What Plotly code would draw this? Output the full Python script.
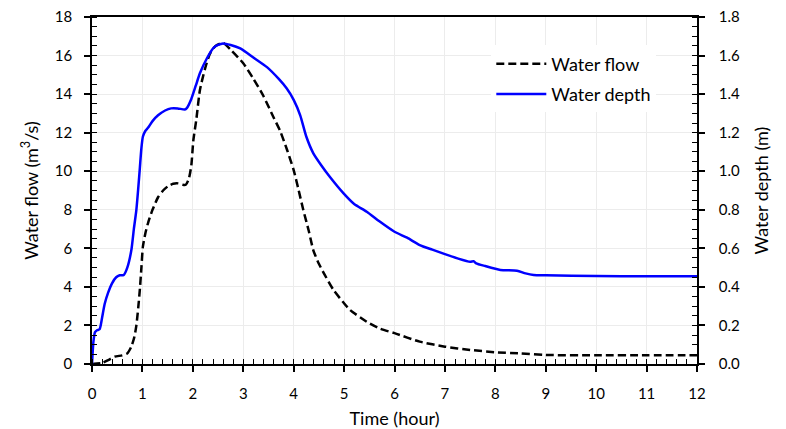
import plotly.graph_objects as go

# ---- data ----
flow_time = [0, 0.2, 0.32, 0.45, 0.6, 0.7, 0.78, 0.84, 0.88, 0.92, 0.95, 0.98, 1.01, 1.06, 1.11,
             1.2, 1.31, 1.41, 1.51, 1.61, 1.71, 1.8, 1.86, 1.92, 1.97, 2.01, 2.07, 2.14, 2.24,
             2.34, 2.45, 2.6, 2.75, 3.0, 3.2, 3.4, 3.6, 3.73, 3.87, 4.0, 4.1, 4.19, 4.3, 4.39,
             4.5, 4.6, 4.79, 5.0, 5.12, 5.45, 5.7, 6.0, 6.5, 7.0, 7.5, 8.0, 8.5, 9.0, 10, 11, 12]
flow_values = [0, 0.05, 0.2, 0.38, 0.45, 0.55, 0.9, 1.4, 2.0, 3.0, 3.9, 5.0, 6.1, 6.8, 7.3,
               8.0, 8.65, 9.0, 9.23, 9.35, 9.37, 9.3, 9.3, 9.6, 10.3, 11.6, 12.7, 14.2, 15.3,
               16.1, 16.5, 16.65, 16.3, 15.6, 14.8, 13.9, 12.8, 12.1, 11.1, 10.06, 9.0, 8.0, 6.9, 5.9,
               5.2, 4.7, 3.84, 3.15, 2.8, 2.19, 1.85, 1.6, 1.16, 0.9, 0.73, 0.61, 0.55, 0.47, 0.45, 0.45, 0.45]

depth_time = [0, 0.03, 0.06, 0.1, 0.15, 0.2, 0.25, 0.32, 0.4, 0.48, 0.55, 0.63, 0.7, 0.78, 0.83,
              0.88, 0.92, 0.95, 0.98, 1.01, 1.06, 1.11, 1.2, 1.31, 1.45, 1.57, 1.7, 1.84,
              1.88, 1.97, 2.06, 2.14, 2.28, 2.41, 2.5,
              2.6, 2.75, 2.94, 3.2, 3.47, 3.7, 3.86, 4.0,
              4.13, 4.25, 4.39, 4.55, 4.72, 4.99, 5.2, 5.45, 5.7, 6.0, 6.25, 6.5, 6.75, 7.0,
              7.25, 7.5, 7.57, 7.62, 7.8, 8.1, 8.43, 8.6, 8.76, 9.0, 10, 11, 12]
depth_values = [0, 0.12, 0.165, 0.175, 0.18, 0.24, 0.31, 0.37, 0.42, 0.45, 0.46, 0.462, 0.5, 0.59, 0.7,
                0.8, 0.92, 1.02, 1.12, 1.18, 1.21, 1.225, 1.26, 1.29, 1.315, 1.326, 1.326, 1.32,
                1.327, 1.375, 1.445, 1.508, 1.586, 1.64, 1.655,
                1.663, 1.655, 1.637, 1.59, 1.54, 1.48, 1.43, 1.37,
                1.29, 1.18, 1.093, 1.03, 0.97, 0.885, 0.83, 0.79, 0.74, 0.686, 0.655, 0.617, 0.593, 0.57,
                0.548, 0.53, 0.533, 0.522, 0.508, 0.488, 0.484, 0.47, 0.462, 0.46, 0.456, 0.455, 0.455]

series_names = ["Water flow", "Water depth"]
x_title = "Time (hour)"
y_title = "Water flow (m<sup>3</sup>/s)"
y2_title = "Water depth (m)"

FAMILY = "Lato, 'Open Sans', sans-serif"
TICK_FONT = dict(family=FAMILY, size=15, color="black")
TITLE_FONT = dict(family=FAMILY, size=18, color="black")
GRID = "#ececec"

fig = go.Figure()
fig.add_trace(go.Scatter(x=flow_time, y=flow_values, name=series_names[0], mode="lines",
                         legendgroup="a",
                         line=dict(color="black", width=2.5, dash="8px,4px", shape="spline", smoothing=0.6),
                         yaxis="y"))
fig.add_trace(go.Scatter(x=depth_time, y=depth_values, name=series_names[1], mode="lines",
                         legendgroup="b",
                         line=dict(color="#0000ff", width=2.5, shape="spline", smoothing=0.6),
                         yaxis="y2"))

fig.update_layout(
    width=786, height=429,
    margin=dict(l=92, r=89, t=17, b=65),
    paper_bgcolor="white", plot_bgcolor="white",
    font=TICK_FONT,
    showlegend=True,
    legend=dict(x=0.66, y=0.918, xanchor="left", yanchor="top", bgcolor="white",
                font=TITLE_FONT, traceorder="grouped", tracegroupgap=4, itemwidth=50),
    xaxis=dict(range=[0, 12], dtick=1, tick0=0, showgrid=True, gridcolor=GRID, gridwidth=1,
               zeroline=False, showline=True, linecolor="black", linewidth=1.5, mirror=True,
               ticks="outside", ticklen=6, tickcolor="black", tickwidth=1.5, tickfont=TICK_FONT,
               minor=dict(dtick=0.2, ticks="inside", ticklen=5, tickcolor="black", tickwidth=1, showgrid=False),
               title=dict(text=x_title, standoff=12, font=TITLE_FONT), ticklabelstandoff=9,
               automargin=False),
    yaxis=dict(range=[0, 18], dtick=2, tick0=0, showgrid=True, gridcolor=GRID, gridwidth=1,
               zeroline=False, showline=True, linecolor="black", linewidth=1.5,
               ticks="outside", ticklen=6, tickcolor="black", tickwidth=1.5, tickfont=TICK_FONT,
               minor=dict(dtick=0.5, ticks="inside", ticklen=5, tickcolor="black", tickwidth=1, showgrid=False),
               title=dict(text=y_title, standoff=12, font=TITLE_FONT), ticklabelstandoff=9,
               automargin=False),
    yaxis2=dict(range=[0, 1.8], dtick=0.2, tick0=0, overlaying="y", side="right", anchor="x",
                showgrid=False, zeroline=False, showline=True, linecolor="black", linewidth=1.5,
                ticks="outside", ticklen=6, tickcolor="black", tickwidth=1.5, tickformat=".1f",
                tickfont=TICK_FONT,
                minor=dict(dtick=0.05, ticks="inside", ticklen=5, tickcolor="black", tickwidth=1, showgrid=False),
                title=dict(text=y2_title, standoff=16, font=TITLE_FONT), ticklabelstandoff=11,
                automargin=False),
    # overlay axes providing the inner half of the crossing major ticks
    xaxis3=dict(range=[0, 12], dtick=1, tick0=0, overlaying="x", anchor="y", side="bottom",
                showgrid=False, zeroline=False, showline=False, showticklabels=False,
                ticks="inside", ticklen=6, tickcolor="black", tickwidth=1.5, automargin=False),
    yaxis3=dict(range=[0, 18], dtick=2, tick0=0, overlaying="y", anchor="x", side="left",
                showgrid=False, zeroline=False, showline=False, showticklabels=False,
                ticks="inside", ticklen=6, tickcolor="black", tickwidth=1.5, automargin=False),
    yaxis4=dict(range=[0, 1.8], dtick=0.2, tick0=0, overlaying="y", anchor="x", side="right",
                showgrid=False, zeroline=False, showline=False, showticklabels=False,
                ticks="inside", ticklen=6, tickcolor="black", tickwidth=1.5, automargin=False),
)

fig.write_html("out.html")
